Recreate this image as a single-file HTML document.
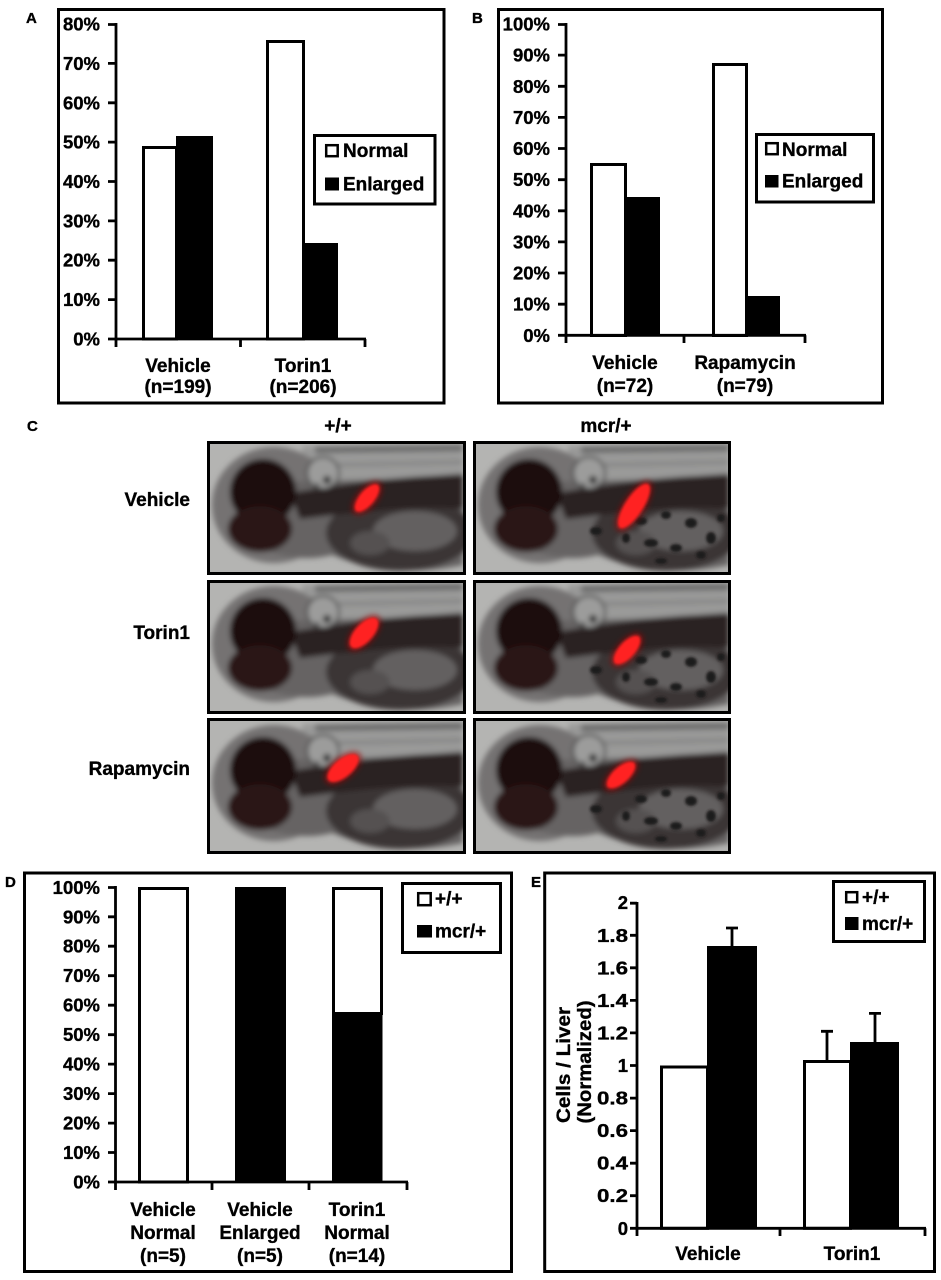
<!DOCTYPE html>
<html><head><meta charset="utf-8">
<style>
html,body{margin:0;padding:0;background:#fff;}
svg{display:block;}
text{font-family:"Liberation Sans",Arial,sans-serif;font-weight:bold;fill:#000;stroke:#000;stroke-width:0.35px;}
</style></head><body>
<svg width="941" height="1280" viewBox="0 0 941 1280" xmlns="http://www.w3.org/2000/svg">
<defs>
<filter id="bl" x="-5%" y="-5%" width="110%" height="110%"><feGaussianBlur stdDeviation="2.6"/></filter>
<filter id="bl1" x="-30%" y="-30%" width="160%" height="160%"><feGaussianBlur stdDeviation="1.3"/></filter>
<filter id="bl3" x="-50%" y="-50%" width="200%" height="200%"><feGaussianBlur stdDeviation="3"/></filter>
<clipPath id="cp"><rect x="0" y="0" width="253" height="130"/></clipPath>
<g id="fish">
 <g clip-path="url(#cp)">
 <rect width="253" height="130" fill="#b4b4b2"/>
 <g filter="url(#bl)">
  <path d="M92,3 C150,0 200,0 253,0 L253,42 L92,48 Z" fill="#9a9a99"/>
  <path d="M105,7 L253,5" stroke="#4e4e4e" stroke-width="6" opacity=".65"/>
  <path d="M125,22 L253,19" stroke="#666" stroke-width="3" opacity=".5"/>
  <ellipse cx="64" cy="62" rx="62" ry="58" fill="#747272"/>
  <path d="M70,40 C120,35 160,40 253,30 L253,122 C210,132 160,128 122,112 C92,120 60,112 40,98 Z" fill="#666464"/>
  <ellipse cx="190" cy="90" rx="74" ry="38" fill="#3a3535"/>
  <ellipse cx="205" cy="88" rx="42" ry="20" fill="#636060"/>
  <ellipse cx="160" cy="100" rx="20" ry="12" fill="#555151"/>
  <path d="M80,50 C130,42 180,33 253,32 L253,66 C200,62 140,70 90,76 Z" fill="#2a2323"/>
  <circle cx="53" cy="49" r="33" fill="#1d0b0b"/>
  <ellipse cx="50" cy="86" rx="32" ry="23" fill="#2a1313"/>
  <circle cx="113" cy="30" r="16" fill="#9c9c9b" stroke="#3a3a3a" stroke-width="2"/>
  <circle cx="117" cy="37" r="4" fill="#222"/>
  <circle cx="107" cy="42" r="2" fill="#333"/>
 </g>
 </g>
</g>
<g id="spots" fill="#1e1a1a" filter="url(#bl1)">
 <ellipse cx="165" cy="78" rx="6" ry="4"/>
 <ellipse cx="190" cy="72" rx="5" ry="4"/>
 <ellipse cx="215" cy="80" rx="6" ry="5"/>
 <ellipse cx="235" cy="95" rx="5" ry="6"/>
 <ellipse cx="175" cy="100" rx="7" ry="4"/>
 <ellipse cx="200" cy="105" rx="6" ry="4"/>
 <ellipse cx="225" cy="112" rx="5" ry="4"/>
 <ellipse cx="150" cy="95" rx="4" ry="5"/>
 <ellipse cx="185" cy="118" rx="6" ry="3"/>
 <ellipse cx="245" cy="75" rx="4" ry="4"/>
 <ellipse cx="120" cy="88" rx="6" ry="4"/>
</g>
</defs>

<!-- ================= PANEL A ================= -->
<text x="26" y="23" font-size="15">A</text>
<rect x="58.5" y="9.5" width="385.5" height="393.5" fill="none" stroke="#000" stroke-width="3"/>
<rect x="143.5" y="147.5" width="33" height="191.5" fill="#fff" stroke="#000" stroke-width="3"/>
<rect x="176" y="136" width="37" height="203" fill="#000"/>
<rect x="267.5" y="41.5" width="36" height="297.5" fill="#fff" stroke="#000" stroke-width="3"/>
<rect x="303" y="243" width="35" height="96" fill="#000"/>
<line x1="116" y1="23" x2="116" y2="340.5" stroke="#000" stroke-width="2.8"/>
<line x1="114.6" y1="339" x2="366" y2="339" stroke="#000" stroke-width="2.8"/>
<path d="M108,339H116M108,299.6H116M108,260.2H116M108,220.9H116M108,181.5H116M108,142.1H116M108,102.8H116M108,63.4H116M108,24.5H116M116,339V347M240.5,339V347M365,339V347" stroke="#000" stroke-width="2.8"/>
<g font-size="18.5" text-anchor="end">
<text x="100" y="345.5">0%</text>
<text x="100" y="306.1">10%</text>
<text x="100" y="266.7">20%</text>
<text x="100" y="227.4">30%</text>
<text x="100" y="188">40%</text>
<text x="100" y="148.6">50%</text>
<text x="100" y="109.3">60%</text>
<text x="100" y="69.9">70%</text>
<text x="100" y="30.5">80%</text>
</g>
<g font-size="19" text-anchor="middle">
<text x="178" y="372">Vehicle</text>
<text x="178" y="393">(n=199)</text>
<text x="303" y="372">Torin1</text>
<text x="303" y="393">(n=206)</text>
</g>
<rect x="314.5" y="135.5" width="120.5" height="68.5" fill="#fff" stroke="#000" stroke-width="3"/>
<rect x="326.2" y="145.2" width="11.5" height="11" fill="#fff" stroke="#000" stroke-width="2.5"/>
<rect x="325" y="177.5" width="14" height="13" fill="#000"/>
<g font-size="19">
<text x="343" y="157">Normal</text>
<text x="343" y="190.5">Enlarged</text>
</g>

<!-- ================= PANEL B ================= -->
<text x="472" y="23" font-size="15">B</text>
<rect x="498.5" y="9.5" width="384" height="393.5" fill="none" stroke="#000" stroke-width="3"/>
<rect x="591.5" y="164.5" width="34" height="171" fill="#fff" stroke="#000" stroke-width="3"/>
<rect x="625" y="197" width="35" height="138.3" fill="#000"/>
<rect x="713.5" y="64.5" width="33" height="271" fill="#fff" stroke="#000" stroke-width="3"/>
<rect x="746" y="296" width="34" height="39.3" fill="#000"/>
<line x1="566" y1="23" x2="566" y2="336.7" stroke="#000" stroke-width="2.8"/>
<line x1="564.6" y1="335.3" x2="806" y2="335.3" stroke="#000" stroke-width="2.8"/>
<path d="M558,335.3H566M558,304.2H566M558,273H566M558,241.9H566M558,210.8H566M558,179.7H566M558,148.5H566M558,117.4H566M558,86.3H566M558,55.1H566M558,24.5H566M566,335.3V343M684,335.3V343M805,335.3V343" stroke="#000" stroke-width="2.8"/>
<g font-size="18.5" text-anchor="end">
<text x="550" y="341.8">0%</text>
<text x="550" y="310.7">10%</text>
<text x="550" y="279.5">20%</text>
<text x="550" y="248.4">30%</text>
<text x="550" y="217.3">40%</text>
<text x="550" y="186.2">50%</text>
<text x="550" y="155">60%</text>
<text x="550" y="123.9">70%</text>
<text x="550" y="92.8">80%</text>
<text x="550" y="61.6">90%</text>
<text x="550" y="30.5">100%</text>
</g>
<g font-size="19" text-anchor="middle">
<text x="625" y="369">Vehicle</text>
<text x="625" y="392">(n=72)</text>
<text x="745" y="369">Rapamycin</text>
<text x="745" y="392">(n=79)</text>
</g>
<rect x="756.5" y="134.5" width="117" height="67.5" fill="#fff" stroke="#000" stroke-width="3"/>
<rect x="766.2" y="143.2" width="11.5" height="11" fill="#fff" stroke="#000" stroke-width="2.5"/>
<rect x="765" y="175" width="13.5" height="12.5" fill="#000"/>
<g font-size="19">
<text x="782" y="156">Normal</text>
<text x="782" y="187.5">Enlarged</text>
</g>

<!-- ================= PANEL C ================= -->
<text x="27" y="431" font-size="15">C</text>
<g font-size="19" text-anchor="middle">
<text x="338" y="432">+/+</text>
<text x="606" y="432">mcr/+</text>
</g>
<g font-size="19" text-anchor="end">
<text x="190" y="506">Vehicle</text>
<text x="190" y="639">Torin1</text>
<text x="190" y="775">Rapamycin</text>
</g>

<!-- row 1 -->
<rect x="210" y="444" width="253" height="128" fill="#b4b4b2"/>
<use href="#fish" x="210" y="443"/>
<rect x="476" y="444" width="253" height="128" fill="#b4b4b2"/>
<use href="#fish" x="476" y="443"/>
<use href="#spots" x="476" y="443"/>
<!-- row 2 -->
<rect x="210" y="583" width="253" height="128" fill="#b4b4b2"/>
<use href="#fish" x="210" y="582"/>
<rect x="476" y="583" width="253" height="128" fill="#b4b4b2"/>
<use href="#fish" x="476" y="582"/>
<use href="#spots" x="476" y="582"/>
<!-- row 3 -->
<rect x="210" y="721" width="253" height="130" fill="#b4b4b2"/>
<use href="#fish" x="210" y="721"/>
<rect x="476" y="721" width="253" height="130" fill="#b4b4b2"/>
<use href="#fish" x="476" y="721"/>
<use href="#spots" x="476" y="721"/>

<!-- livers -->
<g>
 <ellipse cx="367" cy="498" rx="20" ry="10" fill="#a01010" opacity=".7" filter="url(#bl3)" transform="rotate(-50 367 498)"/>
 <ellipse cx="367" cy="498" rx="17" ry="7.5" fill="#ff2424" filter="url(#bl1)" transform="rotate(-50 367 498)"/>
 <ellipse cx="634" cy="506" rx="29" ry="11" fill="#a01010" opacity=".7" filter="url(#bl3)" transform="rotate(-57 634 506)"/>
 <ellipse cx="634" cy="506" rx="26" ry="9" fill="#ff2424" filter="url(#bl1)" transform="rotate(-57 634 506)"/>
 <ellipse cx="364" cy="633" rx="22" ry="11" fill="#a01010" opacity=".7" filter="url(#bl3)" transform="rotate(-48 364 633)"/>
 <ellipse cx="364" cy="633" rx="19" ry="9" fill="#ff2424" filter="url(#bl1)" transform="rotate(-48 364 633)"/>
 <ellipse cx="627" cy="650" rx="21" ry="10" fill="#a01010" opacity=".7" filter="url(#bl3)" transform="rotate(-48 627 650)"/>
 <ellipse cx="627" cy="650" rx="18" ry="8" fill="#ff2424" filter="url(#bl1)" transform="rotate(-48 627 650)"/>
 <ellipse cx="343" cy="768" rx="22" ry="11" fill="#a01010" opacity=".7" filter="url(#bl3)" transform="rotate(-40 343 768)"/>
 <ellipse cx="343" cy="768" rx="19" ry="9" fill="#ff2424" filter="url(#bl1)" transform="rotate(-40 343 768)"/>
 <ellipse cx="621" cy="775" rx="21" ry="10" fill="#a01010" opacity=".7" filter="url(#bl3)" transform="rotate(-42 621 775)"/>
 <ellipse cx="621" cy="775" rx="18" ry="8" fill="#ff2424" filter="url(#bl1)" transform="rotate(-42 621 775)"/>
</g>

<!-- image borders -->
<g fill="none" stroke="#000" stroke-width="3">
<rect x="208.5" y="442.5" width="256" height="131"/>
<rect x="474.5" y="442.5" width="255" height="131"/>
<rect x="208.5" y="581.5" width="256" height="131"/>
<rect x="474.5" y="581.5" width="255" height="131"/>
<rect x="208.5" y="719.5" width="256" height="133"/>
<rect x="474.5" y="719.5" width="255" height="133"/>
</g>

<!-- ================= PANEL D ================= -->
<text x="5" y="887" font-size="15">D</text>
<rect x="24.5" y="873" width="487" height="398.5" fill="none" stroke="#000" stroke-width="3"/>
<rect x="139.5" y="888.5" width="48" height="293.5" fill="#fff" stroke="#000" stroke-width="3"/>
<rect x="235" y="887" width="51" height="295" fill="#000"/>
<rect x="333.5" y="888.5" width="48" height="125" fill="#fff" stroke="#000" stroke-width="3"/>
<rect x="332" y="1013" width="50.5" height="169" fill="#000"/>
<line x1="115.5" y1="886" x2="115.5" y2="1183.4" stroke="#000" stroke-width="2.8"/>
<line x1="114" y1="1182" x2="408" y2="1182" stroke="#000" stroke-width="2.8"/>
<path d="M108,1182H116M108,1152.5H116M108,1123.1H116M108,1093.6H116M108,1064.1H116M108,1034.7H116M108,1005.2H116M108,975.7H116M108,946.2H116M108,916.8H116M108,887.5H116M115.5,1182V1190M212,1182V1190M309,1182V1190M407,1182V1190" stroke="#000" stroke-width="2.8"/>
<g font-size="18.5" text-anchor="end">
<text x="100" y="1188.5">0%</text>
<text x="100" y="1159">10%</text>
<text x="100" y="1129.6">20%</text>
<text x="100" y="1100.1">30%</text>
<text x="100" y="1070.6">40%</text>
<text x="100" y="1041.2">50%</text>
<text x="100" y="1011.7">60%</text>
<text x="100" y="982.2">70%</text>
<text x="100" y="952.7">80%</text>
<text x="100" y="923.3">90%</text>
<text x="100" y="893.8">100%</text>
</g>
<g font-size="19" text-anchor="middle">
<text x="163" y="1216">Vehicle</text>
<text x="163" y="1239">Normal</text>
<text x="163" y="1262">(n=5)</text>
<text x="260" y="1216">Vehicle</text>
<text x="260" y="1239">Enlarged</text>
<text x="260" y="1262">(n=5)</text>
<text x="357" y="1216">Torin1</text>
<text x="357" y="1239">Normal</text>
<text x="357" y="1262">(n=14)</text>
</g>
<rect x="402.5" y="883.5" width="98" height="69" fill="#fff" stroke="#000" stroke-width="3"/>
<rect x="418.2" y="893.2" width="12.5" height="12" fill="#fff" stroke="#000" stroke-width="2.5"/>
<rect x="417" y="925" width="15" height="12.5" fill="#000"/>
<g font-size="19">
<text x="435" y="905">+/+</text>
<text x="435" y="937.5">mcr/+</text>
</g>

<!-- ================= PANEL E ================= -->
<text x="531" y="887" font-size="15">E</text>
<rect x="544.7" y="873" width="389.8" height="398.5" fill="none" stroke="#000" stroke-width="3"/>
<rect x="661.5" y="1067" width="46" height="161.3" fill="#fff" stroke="#000" stroke-width="3"/>
<rect x="707" y="946" width="50" height="282.3" fill="#000"/>
<rect x="804.5" y="1061.5" width="46" height="166.8" fill="#fff" stroke="#000" stroke-width="3"/>
<rect x="850" y="1042" width="49" height="186.3" fill="#000"/>
<path d="M732,946V928M726,928H738M827,1060V1031.3M821,1031.3H833M875,1042V1013.4M869,1013.4H881" stroke="#000" stroke-width="2.8" fill="none"/>
<line x1="637" y1="902" x2="637" y2="1229.7" stroke="#000" stroke-width="2.8"/>
<line x1="635.6" y1="1228.3" x2="926" y2="1228.3" stroke="#000" stroke-width="2.8"/>
<path d="M630,1228.3H637M630,1195.7H637M630,1163.2H637M630,1130.6H637M630,1098.1H637M630,1065.5H637M630,1032.9H637M630,1000.4H637M630,967.8H637M630,935.3H637M630,903.2H637M637,1228.3V1236M780,1228.3V1236M925,1228.3V1236" stroke="#000" stroke-width="2.8"/>
<g font-size="18.5" text-anchor="end">
<text x="628" y="1234.8">0</text>
<text x="628" y="1202.2" textLength="31" lengthAdjust="spacingAndGlyphs">0.2</text>
<text x="628" y="1169.7" textLength="31" lengthAdjust="spacingAndGlyphs">0.4</text>
<text x="628" y="1137.1" textLength="31" lengthAdjust="spacingAndGlyphs">0.6</text>
<text x="628" y="1104.6" textLength="31" lengthAdjust="spacingAndGlyphs">0.8</text>
<text x="628" y="1072">1</text>
<text x="628" y="1039.4" textLength="31" lengthAdjust="spacingAndGlyphs">1.2</text>
<text x="628" y="1006.9" textLength="31" lengthAdjust="spacingAndGlyphs">1.4</text>
<text x="628" y="974.3" textLength="31" lengthAdjust="spacingAndGlyphs">1.6</text>
<text x="628" y="941.8" textLength="31" lengthAdjust="spacingAndGlyphs">1.8</text>
<text x="628" y="909.2">2</text>
</g>
<g font-size="19" text-anchor="middle">
<text x="570" y="1065" transform="rotate(-90 570 1065)" textLength="116" lengthAdjust="spacingAndGlyphs">Cells / Liver</text>
<text x="591" y="1062" transform="rotate(-90 591 1062)" textLength="123" lengthAdjust="spacingAndGlyphs">(Normalized)</text>
<text x="708" y="1260">Vehicle</text>
<text x="852" y="1260">Torin1</text>
</g>
<rect x="833.5" y="881.5" width="91" height="60" fill="#fff" stroke="#000" stroke-width="3"/>
<rect x="846.2" y="892.2" width="11" height="10" fill="#fff" stroke="#000" stroke-width="2.5"/>
<rect x="845" y="917" width="13.5" height="13" fill="#000"/>
<g font-size="19">
<text x="862" y="903.5">+/+</text>
<text x="862" y="930">mcr/+</text>
</g>
</svg>
</body></html>
